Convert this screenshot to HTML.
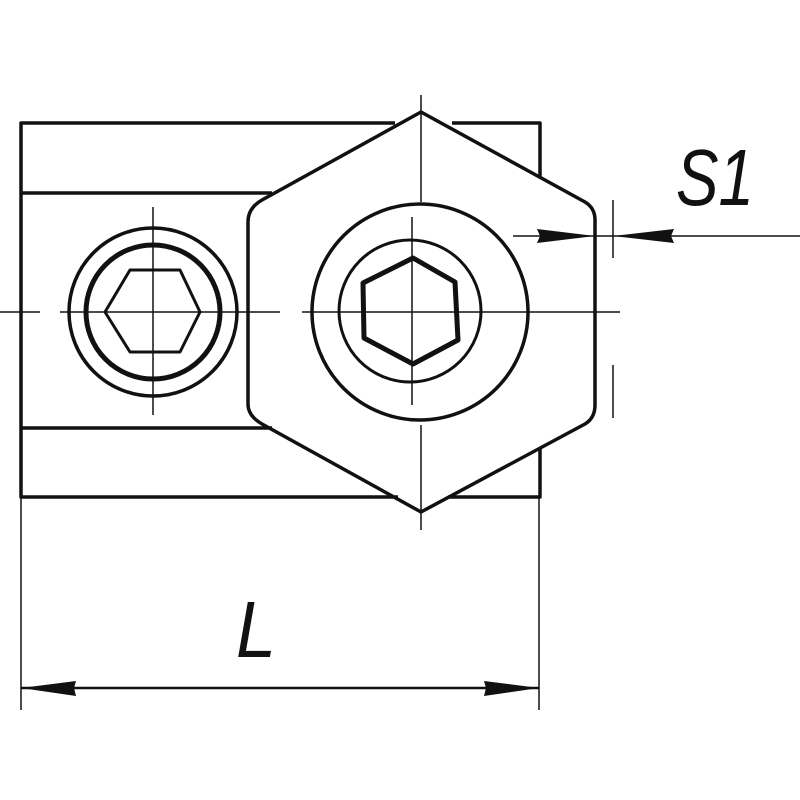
<!DOCTYPE html>
<html><head><style>html,body{margin:0;padding:0;background:#fff}svg{display:block}</style></head>
<body>
<svg width="800" height="800" viewBox="0 0 800 800" xmlns="http://www.w3.org/2000/svg">
<g fill="none" stroke="#111" stroke-width="3.5" stroke-linejoin="round">
  <!-- rectangle body pieces outside hex -->
  <polyline points="395,123 21,123 21,497 398,497"/>
  <polyline points="452,123 540,123 540,178"/>
  <polyline points="540,448 540,497 448,497"/>
  <line x1="21" y1="193" x2="272" y2="193"/>
  <line x1="21" y1="428" x2="272" y2="428"/>
  <!-- big hex -->
  <path d="M421,112 L585,202 Q595,208 595,220 L595,405 Q595,418 585,424 L421,512 L262,424 Q248,416 248,404 L248,222 Q248,208 262,200 Z"/>
  <!-- big circles -->
  <circle cx="420" cy="312" r="108"/>
  <circle cx="410" cy="311" r="71" stroke-width="3"/>
  <!-- socket hex -->
  <path d="M413,258 L455,282 L458,340 L413,364 L364,338 L363,283 Z" stroke-width="5"/>
  <!-- left fitting -->
  <circle cx="153" cy="312" r="84" stroke-width="3.5"/>
  <circle cx="153" cy="312" r="67" stroke-width="5"/>
  <path d="M105,312 L130,270 L180,270 L200,312 L180,352 L130,352 Z" stroke-width="3"/>
</g>
<g stroke="#111" stroke-width="1.5" fill="none">
  <!-- centerlines -->
  <line x1="0" y1="312" x2="40" y2="312"/>
  <line x1="60" y1="312" x2="280" y2="312"/>
  <line x1="302" y1="312" x2="620" y2="312"/>
  <line x1="153" y1="207" x2="153" y2="415"/>
  <line x1="421" y1="95" x2="421" y2="202"/>
  <line x1="412" y1="217" x2="412" y2="405"/>
  <line x1="421" y1="425" x2="421" y2="530"/>
  <!-- S1 dimension -->
  <line x1="513" y1="236" x2="800" y2="236"/>
  <line x1="613" y1="200" x2="613" y2="258"/>
  <line x1="613" y1="365" x2="613" y2="418"/>
  <!-- L dimension -->
  <line x1="21" y1="497" x2="21" y2="710"/>
  <line x1="539" y1="497" x2="539" y2="710"/>
  <line x1="21" y1="688" x2="539" y2="688" stroke-width="2.5"/>
</g>
<g fill="#111">
  <polygon points="595,236 537,229 540,236 537,243"/>
  <polygon points="613,236 674,229 671,236 674,243"/>
  <polygon points="21,688 76,681 74,688 76,696"/>
  <polygon points="539,688 484,681 486,688 484,696"/>
</g>
<g font-family="Liberation Sans, sans-serif" font-style="italic" fill="#111">
  <text x="676" y="205" font-size="80" textLength="78" lengthAdjust="spacingAndGlyphs">S1</text>
  <text x="236" y="657" font-size="80" textLength="40" lengthAdjust="spacingAndGlyphs">L</text>
</g>
</svg>
</body></html>
